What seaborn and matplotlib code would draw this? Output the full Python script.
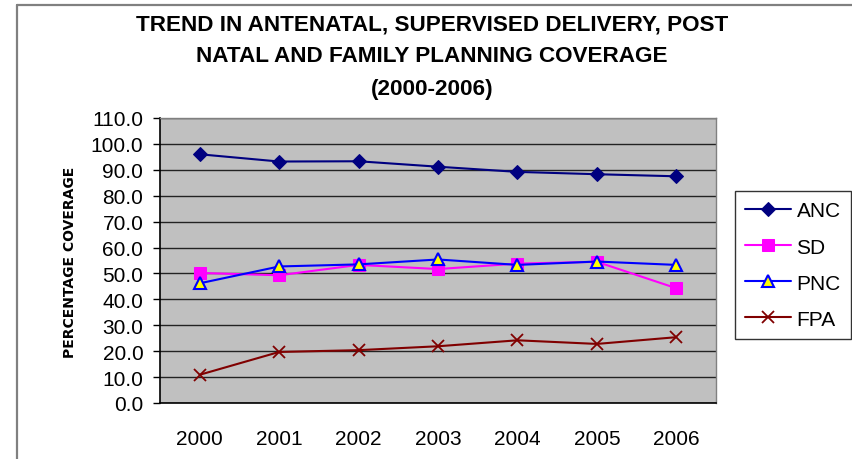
import matplotlib
matplotlib.use("Agg")
import matplotlib.pyplot as plt
from matplotlib.lines import Line2D
import seaborn as sns
import pandas as pd
import numpy as np

years = ["2000", "2001", "2002", "2003", "2004", "2005", "2006"]
anc = [96.0, 93.2, 93.3, 91.2, 89.2, 88.3, 87.5]
sd = [50.2, 49.3, 53.3, 51.7, 53.8, 54.5, 44.3]
pnc = [46.2, 52.7, 53.5, 55.4, 53.3, 54.6, 53.3]
fpa = [10.9, 19.7, 20.4, 21.9, 24.2, 22.8, 25.4]
yticks = [0, 10, 20, 30, 40, 50, 60, 70, 80, 90, 100, 110]

sns.set_style("white")
plt.rcParams['font.family'] = ['Liberation Sans', 'DejaVu Sans']
plt.rcParams['text.color'] = 'black'
plt.rcParams['xtick.color'] = 'black'
plt.rcParams['ytick.color'] = 'black'
plt.rcParams['axes.labelcolor'] = 'black'

fig = plt.figure(figsize=(8.52, 4.6), dpi=100)
ax = fig.add_axes([160/852, 1-404/460, 556/852, 285/460])
ax.set_facecolor("#C0C0C0")

# outer chart-area border (top and left edges visible in the reference)
fig.add_artist(Line2D([16.5/852, 16.5/852], [0, 1-5.5/460], transform=fig.transFigure,
                      color="#808080", linewidth=1.6))
fig.add_artist(Line2D([16.5/852, 1], [1-5.5/460, 1-5.5/460], transform=fig.transFigure,
                      color="#808080", linewidth=1.6))

x = np.arange(len(years))
series = [
    ("ANC", anc, dict(color="#000080", marker="D", markersize=7, markerfacecolor="#000080", markeredgecolor="#000080")),
    ("SD", sd, dict(color="#FF00FF", marker="s", markersize=8, markerfacecolor="#FF00FF", markeredgecolor="#FF00FF")),
    ("PNC", pnc, dict(color="#0000FF", marker="^", markersize=9, markerfacecolor="#FFFF00", markeredgecolor="#0000FF", markeredgewidth=1.5)),
    ("FPA", fpa, dict(color="#800000", marker="x", markersize=9, markeredgecolor="#800000", markeredgewidth=1.3)),
]
for name, vals, style in series:
    df = pd.DataFrame({"x": x, "y": vals})
    sns.lineplot(data=df, x="x", y="y", ax=ax, label=name, linewidth=1.5, sort=False, **style)

ax.set_xlim(-0.5, 6.5)
ax.set_ylim(0, 110)
ax.set_yticks(yticks)
ax.set_yticklabels([f"{v:.1f}" for v in yticks], fontsize=15)
ax.yaxis.grid(True, color="#222222", linewidth=1)
ax.set_axisbelow(True)
ax.set_xticks(x)
ax.set_xticklabels(years, fontsize=15)
ax.set_xticks(np.arange(-0.5, 7, 1), minor=True)
ax.tick_params(axis="x", which="major", length=0, pad=18.5)
ax.tick_params(axis="x", which="minor", length=5, width=1, color="black", direction="out")
ax.tick_params(axis="y", length=5, width=1, color="black", direction="out", left=True, pad=7)
for s in ["left", "bottom"]:
    ax.spines[s].set_color("black")
    ax.spines[s].set_linewidth(1.2)
for s in ["top", "right"]:
    ax.spines[s].set_color("#808080")
    ax.spines[s].set_linewidth(1)
ax.set_xlabel("")
ax.set_ylabel("")

fig.text(70/852, 1-262/460, "PERCENTAGE COVERAGE", rotation=90, fontsize=10, fontweight="bold",
         family=["DejaVu Sans"], ha="center", va="center")

for txt, yy in [("TREND IN ANTENATAL, SUPERVISED DELIVERY, POST", 24.5),
                ("NATAL AND FAMILY PLANNING COVERAGE", 56.5),
                ("(2000-2006)", 89.5)]:
    fig.text(432/852, 1-yy/460, txt, fontsize=16.2, fontweight="bold", ha="center", va="center")

leg = ax.legend(loc="upper left", bbox_to_anchor=(735/852, 1-192/460), bbox_transform=fig.transFigure,
                fontsize=15, frameon=True, fancybox=False, borderpad=0.5, labelspacing=0.82,
                handlelength=2.2, handletextpad=0.25, borderaxespad=0)
leg.get_frame().set_edgecolor("black")
leg.get_frame().set_linewidth(1)

fig.savefig("out.png", dpi=100, facecolor="white")
